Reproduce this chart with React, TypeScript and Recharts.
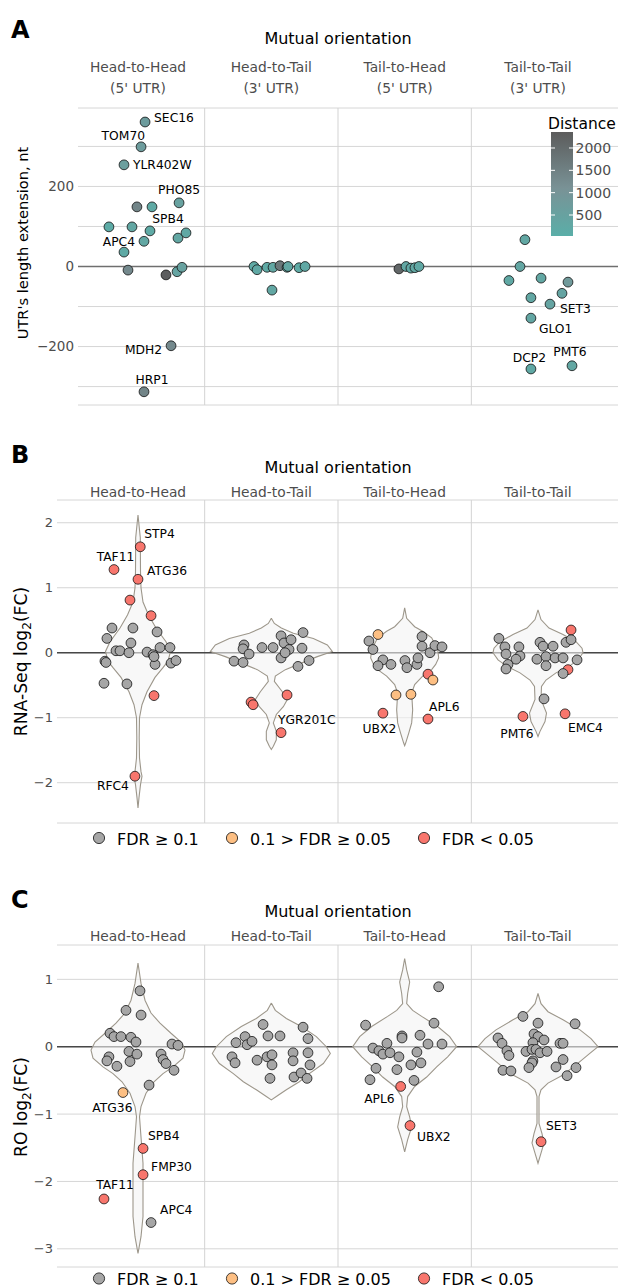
import React from "react";
import { ScatterChart, Scatter, XAxis, YAxis, CartesianGrid, ReferenceLine } from "recharts";

const FONT = "'DejaVu Sans', Verdana, sans-serif";

// ---- categories / legend entries ----
const orientations = ["Head-to-Head", "Head-to-Tail", "Tail-to-Head", "Tail-to-Tail"];
const utrTypes = ["(5' UTR)", "(3' UTR)", "(5' UTR)", "(3' UTR)"];
const fdrClasses = ["FDR ≥ 0.1", "0.1 > FDR ≥ 0.05", "FDR < 0.05"];
const fdrColors = ["#a6a6a6", "#fdbf83", "#f8766d"];

// ---- axis ticks ----
const utrTicks = [-300, -200, -100, 0, 100, 200, 300];
const utrTickLabels = [-200, 0, 200];
const rnaTicks = [-2, -1, 0, 1, 2];
const roTicks = [-3, -2, -1, 0, 1];
const distanceTicks = [500, 1000, 1500, 2000];
const distanceRange = [30, 2358];

// ---- panel A: [jitter in facet, UTR extension (nt), distance (nt), gene] ----
type UtrPoint = [number, number, number, string?];
const utrHeadHead: UtrPoint[] = [
  [0.053, 361, 700, "SEC16"], [0.023, 299, 700, "TOM70"], [-0.105, 254, 600, "YLR402W"],
  [0.308, 159, 500, "PHO85"], [-0.008, 149, 1400], [0.105, 149, 200], [0.09, 89, 200, "SPB4"],
  [-0.218, 99, 150], [-0.045, 99, 300], [0.3, 71, 300], [0.36, 84, 250], [0.045, 63, 300, "APC4"],
  [-0.105, 36, 200], [-0.075, -9, 1300], [0.21, -21, 2300], [0.293, -13, 400], [0.33, -2, 500],
  [0.248, -198, 1300, "MDH2"], [0.045, -313, 1400, "HRP1"],
];
const utrHeadTail: UtrPoint[] = [
  [-0.13, 0, 200], [-0.107, -8, 250], [-0.032, -2, 200], [0.013, -2, 300], [0.065, 2, 1700],
  [0.118, -2, 250], [0.125, 0, 300], [0.208, -3, 200], [0.253, 0, 250], [0.005, -59, 300],
];
const utrTailHead: UtrPoint[] = [
  [-0.043, -6, 2100], [0.01, 0, 300], [0.047, -4, 250], [0.077, -3, 300], [0.107, 0, 250],
];
const utrTailTail: UtrPoint[] = [
  [-0.098, 67, 300], [-0.135, 0, 350], [-0.218, -35, 250], [0.023, -29, 300], [0.225, -39, 800],
  [0.18, -67, 400], [-0.053, -78, 300], [0.09, -94, 400, "SET3"], [-0.053, -129, 350, "GLO1"],
  [-0.053, -256, 250, "DCP2"], [0.255, -248, 300, "PMT6"],
];

// ---- panel B: [jitter, RNA-Seq log2FC, FDR class, gene] ----
type FcPoint = [number, number, number, string?];
const rnaHeadHead: FcPoint[] = [
  [-0.195, 0.38, 0], [-0.038, 0.38, 0], [-0.233, 0.22, 0], [0.143, 0.32, 0], [-0.053, 0.15, 0],
  [-0.165, 0.03, 0], [-0.135, 0.03, 0], [-0.068, 0.0, 0], [0.068, 0.01, 0], [0.113, -0.03, 0],
  [0.165, 0.08, 0], [0.24, 0.08, 0], [-0.248, -0.13, 0], [-0.24, -0.15, 0], [0.128, -0.18, 0],
  [0.248, -0.16, 0], [0.285, -0.12, 0], [-0.255, -0.47, 0], [-0.083, -0.48, 0], [0.12, -0.06, 0],
  [0.017, 1.63, 2, "STP4"], [-0.18, 1.28, 2, "TAF11"], [0.0, 1.13, 2, "ATG36"], [-0.06, 0.81, 2],
  [0.098, 0.57, 2], [0.12, -0.66, 2], [-0.023, -1.9, 2, "RFC4"],
];
const rnaHeadTail: FcPoint[] = [
  [-0.28, -0.13, 0], [-0.212, -0.15, 0], [-0.205, 0.12, 0], [-0.212, 0.06, 0], [-0.167, -0.02, 0],
  [-0.07, 0.08, 0], [0.013, 0.08, 0], [0.073, 0.26, 0], [0.095, 0.15, 0], [0.148, 0.2, 0],
  [0.133, 0.05, 0], [0.073, -0.08, 0], [0.103, 0.0, 0], [0.238, 0.31, 0], [0.23, 0.07, 0],
  [0.2, -0.21, 0], [0.283, -0.12, 0],
  [-0.152, -0.76, 2], [-0.137, -0.8, 2], [0.118, -0.65, 2], [0.073, -1.23, 2, "YGR201C"],
];
const rnaTailHead: FcPoint[] = [
  [-0.268, 0.18, 0], [-0.238, 0.05, 0], [-0.163, -0.11, 0], [-0.2, -0.2, 0], [-0.103, -0.18, 0],
  [0.002, -0.12, 0], [0.017, -0.23, 0], [0.092, -0.18, 0], [0.1, -0.08, 0], [0.13, 0.25, 0],
  [0.13, 0.1, 0], [0.19, 0.0, 0], [0.227, 0.11, 0], [0.28, 0.09, 0],
  [0.175, -0.33, 2], [-0.2, 0.28, 1], [0.212, -0.42, 1], [-0.065, -0.65, 1], [0.047, -0.64, 1],
  [-0.163, -0.93, 2, "UBX2"], [0.175, -1.02, 2, "APL6"],
];
const rnaTailTail: FcPoint[] = [
  [0.248, 0.35, 2], [0.225, -0.26, 2],
  [-0.293, 0.22, 0], [-0.248, 0.09, 0], [-0.24, -0.02, 0], [-0.143, 0.09, 0], [-0.135, -0.05, 0],
  [-0.165, -0.1, 0], [-0.225, -0.18, 0], [-0.24, -0.25, 0], [0.015, 0.16, 0], [0.038, 0.1, 0],
  [0.113, 0.1, 0], [-0.008, -0.1, 0], [0.06, -0.06, 0], [0.06, -0.2, 0], [0.128, -0.08, 0],
  [0.188, -0.08, 0], [0.21, 0.16, 0], [0.248, 0.2, 0], [0.293, -0.11, 0], [0.188, -0.32, 0],
  [0.045, -0.71, 0],
  [-0.113, -0.98, 2, "PMT6"], [0.203, -0.94, 2, "EMC4"],
];

// ---- panel C: [jitter, RO log2FC, FDR class, gene] ----
const roHeadHead: FcPoint[] = [
  [0.015, 0.83, 0], [0.023, 0.47, 0], [-0.09, 0.54, 0], [-0.21, 0.2, 0], [-0.18, 0.15, 0],
  [-0.128, 0.15, 0], [-0.053, 0.14, 0], [-0.015, 0.07, 0], [-0.068, -0.07, 0], [-0.008, -0.11, 0],
  [-0.06, -0.22, 0], [-0.218, -0.15, 0], [-0.233, -0.21, 0], [-0.158, -0.29, 0], [0.173, -0.11, 0],
  [0.188, -0.19, 0], [0.21, -0.25, 0], [0.27, -0.35, 0], [0.255, 0.04, 0], [0.3, 0.02, 0],
  [0.083, -0.57, 0], [0.098, -2.61, 0, "APC4"],
  [-0.113, -0.68, 1, "ATG36"],
  [0.038, -1.51, 2, "SPB4"], [0.038, -1.9, 2, "FMP30"], [-0.255, -2.26, 2, "TAF11"],
];
const roHeadTail: FcPoint[] = [
  [-0.265, 0.06, 0], [-0.197, 0.15, 0], [-0.182, 0.03, 0], [-0.145, 0.08, 0], [-0.295, -0.15, 0],
  [-0.272, -0.24, 0], [-0.107, -0.2, 0], [-0.062, 0.33, 0], [-0.025, 0.16, 0], [0.065, 0.16, 0],
  [-0.032, -0.15, 0], [0.005, -0.12, 0], [0.005, -0.27, 0], [-0.01, -0.47, 0], [0.163, -0.09, 0],
  [0.163, -0.21, 0], [0.17, -0.45, 0], [0.223, -0.39, 0], [0.238, 0.29, 0], [0.275, 0.12, 0],
  [0.275, -0.09, 0], [0.29, -0.27, 0], [0.268, -0.47, 0],
];
const roTailHead: FcPoint[] = [
  [0.255, 0.89, 0], [-0.293, 0.32, 0], [0.22, 0.35, 0], [-0.02, 0.16, 0], [-0.02, 0.13, 0],
  [0.115, 0.17, 0], [0.175, 0.04, 0], [0.28, 0.04, 0], [-0.133, 0.05, 0], [-0.238, -0.02, 0],
  [-0.193, -0.06, 0], [-0.163, -0.11, 0], [-0.11, -0.09, 0], [-0.043, -0.15, 0], [0.092, -0.08, 0],
  [-0.215, -0.32, 0], [-0.058, -0.34, 0], [0.047, -0.27, 0], [0.122, -0.24, 0], [-0.26, -0.49, 0],
  [0.07, -0.5, 0],
  [-0.03, -0.59, 2, "APL6"], [0.04, -1.17, 2, "UBX2"],
];
const roTailTail: FcPoint[] = [
  [-0.113, 0.45, 0], [0.0, 0.35, 0], [0.278, 0.34, 0], [-0.3, 0.13, 0], [-0.27, 0.05, 0],
  [-0.233, -0.06, 0], [-0.218, -0.13, 0], [-0.03, 0.19, 0], [0.0, 0.15, 0], [0.045, 0.1, 0],
  [-0.038, 0.06, 0], [0.165, 0.05, 0], [0.188, 0.05, 0], [-0.09, -0.07, 0], [-0.045, -0.04, 0],
  [-0.015, -0.04, 0], [0.015, -0.09, 0], [0.068, -0.07, 0], [-0.038, -0.21, 0], [-0.045, -0.24, 0],
  [-0.068, -0.31, 0], [-0.263, -0.35, 0], [-0.203, -0.36, 0], [0.135, -0.3, 0], [0.188, -0.19, 0],
  [0.285, -0.31, 0], [0.218, -0.43, 0],
  [0.023, -1.41, 2, "SET3"],
];

// ---- violin densities: [log2FC, half width] ----
type Dens = [number, number];
const rnaViolins: Dens[][] = [
  [[2.12, 0], [1.77, 2.3], [1.25, 2.5], [1.0, 3], [0.78, 5], [0.58, 10.5], [0.38, 18], [0.17, 28], [0.02, 32.5],
   [-0.13, 30], [-0.23, 25], [-0.38, 17], [-0.6, 9], [-0.8, 4], [-1.0, 1.5], [-1.31, 1.2], [-1.62, 1.5],
   [-1.83, 3], [-1.9, 4], [-2.03, 2.5], [-2.23, 1], [-2.39, 0]],
  [[0.53, 0], [0.45, 3], [0.38, 10], [0.3, 22], [0.22, 42], [0.12, 56], [0.02, 61], [-0.06, 46], [-0.16, 30],
   [-0.26, 14], [-0.36, 4], [-0.44, 3], [-0.6, 11], [-0.72, 16], [-0.83, 12], [-0.95, 5], [-1.08, 2],
   [-1.21, 5], [-1.34, 5], [-1.44, 2], [-1.49, 0]],
  [[0.69, 0], [0.53, 2], [0.4, 10], [0.33, 18], [0.23, 27], [0.05, 33], [-0.08, 34], [-0.18, 31], [-0.26, 27],
   [-0.36, 18], [-0.49, 10], [-0.62, 7], [-0.88, 8], [-1.08, 7], [-1.24, 4], [-1.39, 1], [-1.43, 0]],
  [[0.66, 0], [0.51, 3], [0.38, 11], [0.28, 25], [0.17, 38], [0.07, 44], [0.0, 45], [-0.11, 40], [-0.21, 31],
   [-0.31, 18], [-0.42, 8], [-0.52, 3.5], [-0.72, 3], [-0.93, 8.5], [-1.06, 7], [-1.21, 2], [-1.29, 0]],
];
const roViolins: Dens[][] = [
  [[1.24, 0], [0.94, 3], [0.69, 7], [0.5, 13], [0.35, 22], [0.2, 33], [0.07, 43], [-0.05, 47], [-0.17, 45],
   [-0.3, 35], [-0.4, 25], [-0.52, 16], [-0.69, 8], [-0.89, 3], [-1.04, 1.5], [-1.34, 3], [-1.73, 5],
   [-2.13, 5], [-2.52, 5], [-2.82, 3], [-3.07, 0]],
  [[0.65, 0], [0.54, 4], [0.42, 15], [0.3, 30], [0.15, 45], [0.0, 55], [-0.1, 59], [-0.25, 52], [-0.4, 38],
   [-0.52, 28], [-0.64, 15], [-0.74, 5], [-0.79, 0]],
  [[1.31, 0], [1.14, 2], [0.96, 5], [0.79, 3], [0.64, 2], [0.54, 8], [0.45, 17], [0.3, 33], [0.15, 45],
   [0.0, 52], [-0.15, 43], [-0.3, 32], [-0.45, 22], [-0.59, 10], [-0.74, 3], [-0.89, 2], [-1.04, 5],
   [-1.19, 7], [-1.38, 3], [-1.56, 0]],
  [[0.79, 0], [0.64, 3], [0.52, 10], [0.4, 25], [0.25, 42], [0.12, 53], [0.0, 60], [-0.12, 50], [-0.27, 38],
   [-0.42, 25], [-0.54, 10], [-0.64, 3], [-0.74, 1], [-1.14, 1], [-1.29, 4], [-1.43, 6], [-1.58, 3], [-1.73, 0]],
];

// ---- label placement (dx, dy, anchor) ----
type Place = [number, number, "start" | "middle" | "end"];
const labelsA: Record<string, Place> = {
  SEC16: [9, -5, "start"], TOM70: [4, -11, "end"], YLR402W: [9, 0, "start"], PHO85: [0, -13, "middle"],
  SPB4: [18, -12, "middle"], APC4: [-9, 0, "end"], MDH2: [-9, 4, "end"], HRP1: [8, -12, "middle"],
  SET3: [10, 4, "start"], GLO1: [8, 10, "start"], DCP2: [-1.5, -11, "middle"], PMT6: [-2, -14, "middle"],
};
const labelsB: Record<string, Place> = {
  STP4: [4, -13, "start"], TAF11: [1.5, -13, "middle"], ATG36: [9, -9, "start"], RFC4: [-6, 9, "end"],
  YGR201C: [-3, -13, "start"], UBX2: [-3.5, 15, "middle"], APL6: [1, -13, "start"],
  PMT6: [-6, 17, "middle"], EMC4: [3, 14, "start"],
};
const labelsC: Record<string, Place> = {
  ATG36: [-10.5, 15, "middle"], SPB4: [5, -13, "start"], FMP30: [8, -8, "start"], TAF11: [11, -14, "middle"],
  APC4: [9, -13, "start"], APL6: [-6, 12, "end"], UBX2: [7, 11, "start"], SET3: [5, -16, "start"],
};

// ---- helpers ----
// colour ramp for distance (teal -> blue-grey -> dark grey)
const rampStops: [number, number[]][] = [
  [30, [90, 174, 168]],
  [1100, [121, 146, 150]],
  [2358, [92, 92, 92]],
];
function distColor(d: number) {
  let i = 0;
  while (i < rampStops.length - 2 && d > rampStops[i + 1][0]) i++;
  const [d0, c0] = rampStops[i];
  const [d1, c1] = rampStops[i + 1];
  const t = Math.max(0, Math.min(1, (d - d0) / (d1 - d0)));
  const c = c0.map((v, k) => Math.round(v + (c1[k] - v) * t));
  return `rgb(${c[0]},${c[1]},${c[2]})`;
}
const minus = (v: number) => (v < 0 ? `\u2212${Math.abs(v)}` : String(v));

const PX_PER_UNIT = 133.33;
const VIOLIN_SCALE = 1 / PX_PER_UNIT;

function violinOutline(rows: Dens[], facet: number) {
  const c = facet + 0.5;
  const right = rows.map(([v, w]) => ({ x: c + w * VIOLIN_SCALE, y: v }));
  const left = [...rows].reverse().map(([v, w]) => ({ x: c - w * VIOLIN_SCALE, y: v }));
  return [...right, ...left];
}

function utrData(groups: UtrPoint[][]) {
  return groups.flatMap((g, f) =>
    g.map(([j, y, d, gene]) => ({ x: f + 0.5 + j, y, color: distColor(d), gene })));
}
function fcData(groups: FcPoint[][]) {
  return groups.flatMap((g, f) =>
    g.map(([j, y, k, gene]) => ({ x: f + 0.5 + j, y, color: fdrColors[k], gene })));
}

const Dot = (props: any) => {
  const { cx, cy, payload } = props;
  if (cx == null || cy == null) return <g />;
  return <circle cx={cx} cy={cy} r={4.9} fill={payload.color} stroke="#111" strokeWidth={0.8} />;
};
const makeLabel = (places: Record<string, Place>) => (props: any) => {
  const { cx, cy, payload } = props;
  const p = payload.gene ? places[payload.gene] : null;
  if (!p || cx == null) return <g />;
  return (
    <text x={cx + p[0]} y={cy + p[1] + 4.5} textAnchor={p[2]} fontSize={12.3} fontFamily={FONT} fill="#000">
      {payload.gene}
    </text>
  );
};
const Nothing = () => <g />;

interface PanelProps {
  plotTop: number;
  plotBottom: number;
  plotLeft: number;
  yDomain: [number, number];
  ticks: number[];
  fmt: (v: number) => string;
  tickSize: number;
  zeroColor: string;
  violins?: Dens[][];
  points: any[];
  places: Record<string, Place>;
}

function Panel(p: PanelProps) {
  const height = p.plotBottom - p.plotTop + 20;
  const xDomain: [number, number] = [0.05 - (78 - p.plotLeft) / PX_PER_UNIT, 4.1];
  const labelled = p.points.filter((d) => d.gene);
  const zero = [{ x: xDomain[0], y: 0 }, { x: xDomain[1], y: 0 }];
  return (
    <div style={{ position: "absolute", left: 0, top: p.plotTop - 10 }}>
      <ScatterChart width={621} height={height} margin={{ top: 10, right: 3, bottom: 10, left: 0 }}>
        <CartesianGrid vertical={false} stroke="#d6d6d6" strokeWidth={1} />
        <XAxis type="number" dataKey="x" domain={xDomain} hide allowDataOverflow />
        <YAxis
          type="number"
          dataKey="y"
          domain={p.yDomain}
          ticks={p.ticks}
          interval={0}
          allowDataOverflow
          width={p.plotLeft}
          tickLine={false}
          axisLine={false}
          tickSize={0}
          tickMargin={4}
          tickFormatter={p.fmt}
          tick={{ fontSize: p.tickSize, fill: "#4d4d4d", fontFamily: FONT }}
        />
        {[1, 2, 3].map((x) => (
          <ReferenceLine key={x} x={x} stroke="#d3d3d3" strokeWidth={1} />
        ))}
        <Scatter
          data={zero}
          shape={Nothing}
          line={{ stroke: p.zeroColor, strokeWidth: 1.6 }}
          isAnimationActive={false}
        />
        {(p.violins || []).map((rows, f) => (
          <Scatter
            key={`v${f}`}
            data={violinOutline(rows, f)}
            shape={Nothing}
            line={{ stroke: "#9d978b", strokeWidth: 1.1, fill: "#f4f4f4", fillOpacity: 0.6 }}
            isAnimationActive={false}
          />
        ))}
        <Scatter data={p.points} shape={Dot} isAnimationActive={false} />
        <Scatter data={labelled} shape={makeLabel(p.places)} isAnimationActive={false} />
      </ScatterChart>
    </div>
  );
}

const facetCenters = [138, 271.3, 404.7, 538];
const legendX = [99, 232, 424];

function FdrLegend({ cy }: { cy: number }) {
  return (
    <g>
      {fdrClasses.map((lab, i) => (
        <g key={lab}>
          <circle cx={legendX[i]} cy={cy} r={5.6} fill={fdrColors[i]} stroke="#111" strokeWidth={0.8} />
          <text x={legendX[i] + 18} y={cy + 6.5} fontSize={16} fontFamily={FONT} fill="#000">{lab}</text>
        </g>
      ))}
    </g>
  );
}

export default function App() {
  const barTop = 132;
  const barBottom = 236;
  const distY = (d: number) =>
    barBottom - ((d - distanceRange[0]) / (distanceRange[1] - distanceRange[0])) * (barBottom - barTop);
  const gradStops = rampStops.map(([d]) => ({
    offset: `${((d - distanceRange[0]) / (distanceRange[1] - distanceRange[0])) * 100}%`,
    color: distColor(d),
  }));
  return (
    <div style={{ position: "relative", width: 621, height: 1288, background: "#fff", fontFamily: FONT }}>
      <style>{`body{margin:0}`}</style>
      <Panel
        plotTop={108}
        plotBottom={405}
        plotLeft={78}
        yDomain={[-346, 396]}
        ticks={utrTicks}
        fmt={(v) => (utrTickLabels.includes(v) ? minus(v) : "")}
        tickSize={13.5}
        zeroColor="#6f6f6f"
        points={utrData([utrHeadHead, utrHeadTail, utrTailHead, utrTailTail])}
        places={labelsA}
      />
      <Panel
        plotTop={500}
        plotBottom={823}
        plotLeft={57}
        yDomain={[-2.62, 2.35]}
        ticks={rnaTicks}
        fmt={minus}
        tickSize={13}
        zeroColor="#474747"
        violins={rnaViolins}
        points={fcData([rnaHeadHead, rnaHeadTail, rnaTailHead, rnaTailTail])}
        places={labelsB}
      />
      <Panel
        plotTop={945}
        plotBottom={1267}
        plotLeft={57}
        yDomain={[-3.27, 1.51]}
        ticks={roTicks}
        fmt={minus}
        tickSize={13}
        zeroColor="#474747"
        violins={roViolins}
        points={fcData([roHeadHead, roHeadTail, roTailHead, roTailTail])}
        places={labelsC}
      />
      <svg width={621} height={1288} style={{ position: "absolute", left: 0, top: 0, pointerEvents: "none" }}>
        <defs>
          <linearGradient id="distGrad" x1="0" y1="1" x2="0" y2="0">
            {gradStops.map((s) => (
              <stop key={s.offset} offset={s.offset} stopColor={s.color} />
            ))}
          </linearGradient>
        </defs>
        {/* panel letters */}
        <text x={11} y={38} fontSize={24} fontWeight="bold" fontFamily={FONT}>A</text>
        <text x={11} y={463} fontSize={24} fontWeight="bold" fontFamily={FONT}>B</text>
        <text x={11} y={908} fontSize={24} fontWeight="bold" fontFamily={FONT}>C</text>
        {/* titles */}
        <text x={338} y={44} textAnchor="middle" fontSize={16} fontFamily={FONT}>Mutual orientation</text>
        <text x={338} y={473} textAnchor="middle" fontSize={16} fontFamily={FONT}>Mutual orientation</text>
        <text x={338} y={917} textAnchor="middle" fontSize={16} fontFamily={FONT}>Mutual orientation</text>
        {/* strips */}
        {orientations.map((o, i) => (
          <g key={o} fill="#4d4d4d" fontSize={13.8} fontFamily={FONT} textAnchor="middle">
            <text x={facetCenters[i]} y={71.5}>{o}</text>
            <text x={facetCenters[i]} y={92.5}>{utrTypes[i]}</text>
            <text x={facetCenters[i]} y={496.5}>{o}</text>
            <text x={facetCenters[i]} y={941}>{o}</text>
          </g>
        ))}
        {/* y titles */}
        <text transform="translate(28,243) rotate(-90)" textAnchor="middle" fontSize={14.6} fontFamily={FONT}>
          UTR's length extension, nt
        </text>
        <text transform="translate(27,661.5) rotate(-90)" textAnchor="middle" fontSize={17.2} fontFamily={FONT}>
          RNA-Seq log<tspan fontSize={12} dy={4}>2</tspan><tspan dy={-4}>(FC)</tspan>
        </text>
        <text transform="translate(27,1107) rotate(-90)" textAnchor="middle" fontSize={17.2} fontFamily={FONT}>
          RO log<tspan fontSize={12} dy={4}>2</tspan><tspan dy={-4}>(FC)</tspan>
        </text>
        {/* distance colour bar */}
        <text x={548} y={129} fontSize={15.5} fontFamily={FONT}>Distance</text>
        <rect x={551} y={barTop} width={22} height={barBottom - barTop} fill="url(#distGrad)" />
        {distanceTicks.map((d) => (
          <g key={d}>
            <line x1={551} x2={555} y1={distY(d)} y2={distY(d)} stroke="#fff" strokeWidth={1} />
            <line x1={569} x2={573} y1={distY(d)} y2={distY(d)} stroke="#fff" strokeWidth={1} />
            <text x={575.5} y={distY(d) + 5} fontSize={14} fill="#4d4d4d" fontFamily={FONT}>{d}</text>
          </g>
        ))}
        <FdrLegend cy={838} />
        <FdrLegend cy={1278.5} />
      </svg>
    </div>
  );
}
